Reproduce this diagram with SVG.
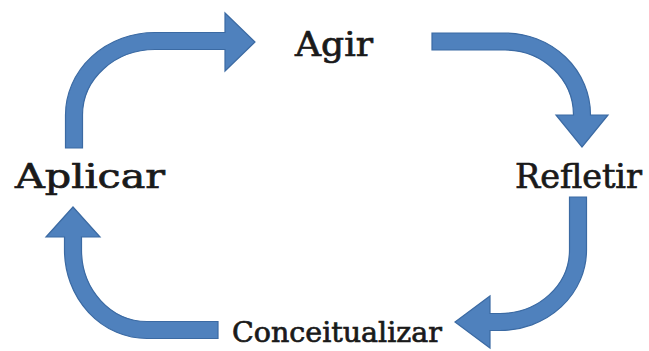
<svg xmlns="http://www.w3.org/2000/svg" width="649" height="351" viewBox="0 0 649 351">
  <style>
    .arrow { fill: #4f81bd; stroke: #3b6aa3; stroke-width: 1.2; stroke-linejoin: miter; }
    .label { font-family: "DejaVu Serif", "Liberation Serif", serif; font-weight: normal; fill: #1a1a1a; stroke: #1a1a1a; stroke-width: 0.7; }
  </style>
  <rect width="649" height="351" fill="#ffffff"/>

  <g id="connectors">
    <!-- Aplicar -> Agir -->
    <path id="arrow-aplicar-agir" class="arrow" d="M65.5,148 V115 A89.5,82.5 0 0 1 155,32.5 H225 V13 L255,42 L225,71 V49.5 H155 A72.5,65.5 0 0 0 82.5,115 V148 Z"/>
    <!-- Agir -> Refletir -->
    <path id="arrow-agir-refletir" class="arrow" d="M432,33 H505 A85.5,82 0 0 1 590.5,115 H608 L582,147 L556,115 H573.5 A68.5,65 0 0 0 505,50 H432 Z"/>
    <!-- Refletir -> Conceitualizar -->
    <path id="arrow-refletir-conceitualizar" class="arrow" d="M569.5,197 V250 A69.5,63.5 0 0 1 500,313.5 H490 V296 L455,322 L490,348 V330.5 H500 A86.5,80.5 0 0 0 586.5,250 V197 Z"/>
    <!-- Conceitualizar -> Aplicar -->
    <path id="arrow-conceitualizar-aplicar" class="arrow" d="M218,321.5 H147 A65.5,71.5 0 0 1 81.5,250 V237 H100 L73,207 L46,237 H64.5 V250 A82.5,88.5 0 0 0 147,338.5 H218 Z"/>
  </g>

  <g id="node-agir">
    <text class="label" x="295" y="56" font-size="33" textLength="78" lengthAdjust="spacingAndGlyphs">Agir</text>
  </g>
  <g id="node-refletir">
    <text class="label" x="515" y="188" font-size="33" textLength="127" lengthAdjust="spacingAndGlyphs">Refletir</text>
  </g>
  <g id="node-conceitualizar">
    <text class="label" x="232" y="342" font-size="28" textLength="210" lengthAdjust="spacingAndGlyphs">Conceitualizar</text>
  </g>
  <g id="node-aplicar">
    <text class="label" x="15" y="188" font-size="33" textLength="150" lengthAdjust="spacingAndGlyphs">Aplicar</text>
  </g>
</svg>
